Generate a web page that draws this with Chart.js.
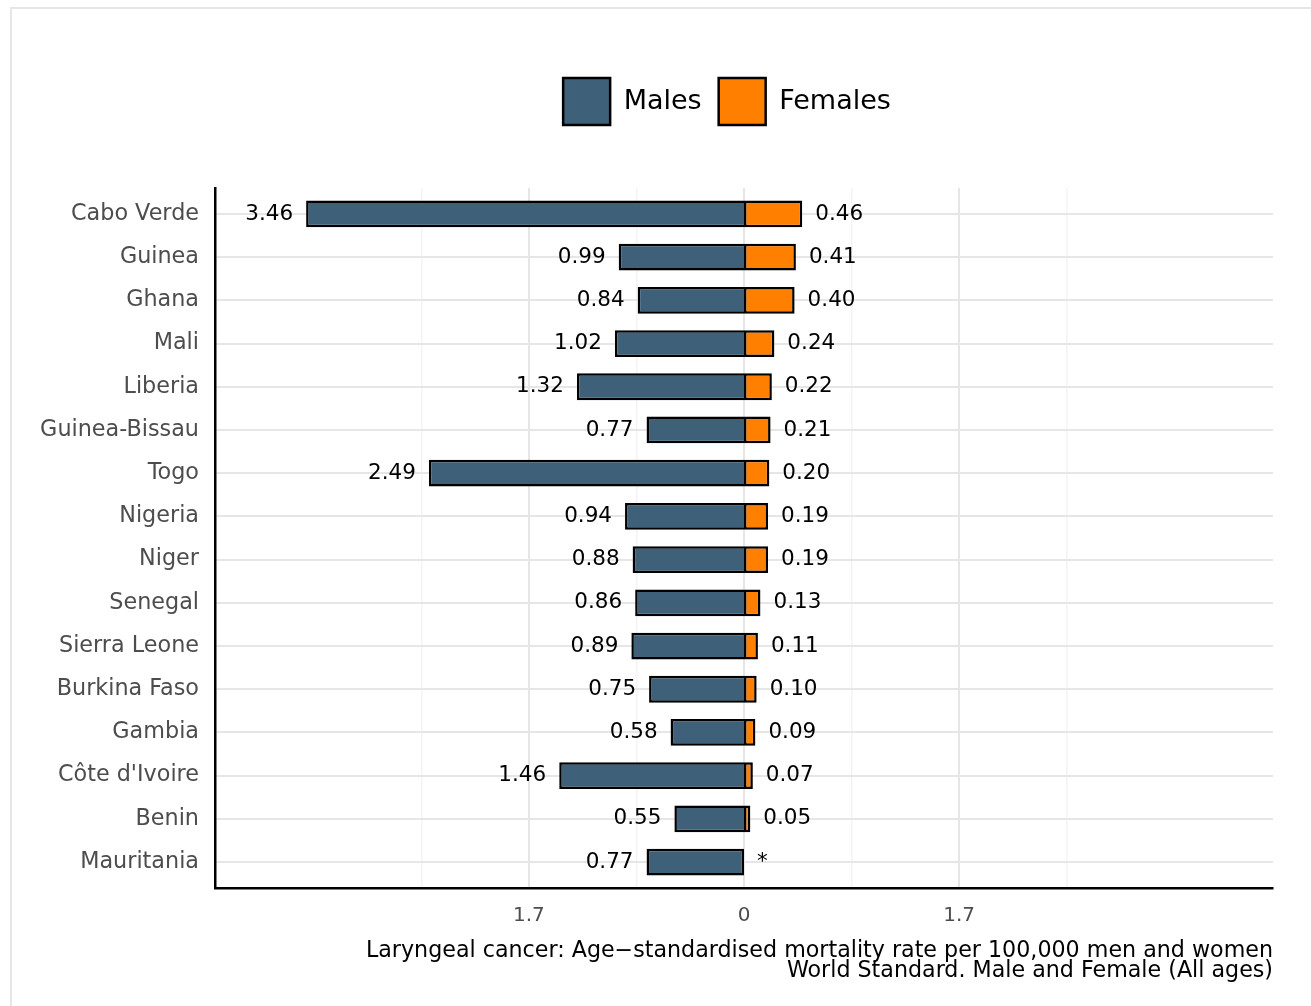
<!DOCTYPE html>
<html>
<head>
<meta charset="utf-8">
<title>Laryngeal cancer mortality</title>
<script src="https://cdn.jsdelivr.net/npm/chart.js@4.4.1/dist/chart.umd.min.js"></script>
<style>
  html, body { margin: 0; padding: 0; background: #fff; overflow: hidden; }
  #moldura { position: absolute; left: 10px; top: 7px; width: 1400px; height: 1100px; border: 2px solid #e6e6e6; }
  #area { position: absolute; left: 0; top: 0; width: 1311px; height: 1006px; }
</style>
</head>
<body>
<div id="moldura"></div>
<div id="area"><canvas id="grafico" width="1311" height="1006"></canvas></div>
<script>
// Data
const countries = ['Cabo Verde', 'Guinea', 'Ghana', 'Mali', 'Liberia', 'Guinea-Bissau', 'Togo', 'Nigeria',
    'Niger', 'Senegal', 'Sierra Leone', 'Burkina Faso', 'Gambia', "Côte d'Ivoire", 'Benin', 'Mauritania'];
const males = [3.46, 0.99, 0.84, 1.02, 1.32, 0.77, 2.49, 0.94, 0.88, 0.86, 0.89, 0.75, 0.58, 1.46, 0.55, 0.77];
const females = [0.46, 0.41, 0.40, 0.24, 0.22, 0.21, 0.20, 0.19, 0.19, 0.13, 0.11, 0.10, 0.09, 0.07, 0.05, null];

// Axis breaks (major labelled, minor only grid)
const xMajor = [-1.7, 0, 1.7];
const xMinor = [-2.55, -0.85, 0.85, 2.55];
const xLimit = 4.18;
const axisTitle = ['Laryngeal cancer: Age\u2212standardised mortality rate per 100,000 men and women',
    'World Standard. Male and Female (All ages)'];

Chart.defaults.font.family = '"DejaVu Sans", sans-serif';

function isMajor(v) {
    return xMajor.some(m => Math.abs(m - v) < 1e-6);
}

// Value labels at the bar ends
const rotulosValores = {
    id: 'rotulosValores',
    afterDatasetsDraw(chart) {
        const ctx = chart.ctx;
        const metaM = chart.getDatasetMeta(0);
        const metaF = chart.getDatasetMeta(1);
        const zero = chart.scales.x.getPixelForValue(0);
        ctx.save();
        ctx.font = '21.5px "DejaVu Sans"';
        ctx.fillStyle = '#000';
        ctx.textBaseline = 'middle';
        countries.forEach((c, i) => {
            const barra = metaM.data[i];
            ctx.textAlign = 'right';
            ctx.fillText(males[i].toFixed(2), barra.x - 13, barra.y);
            ctx.textAlign = 'left';
            if (females[i] === null) {
                ctx.fillText('*', zero + 13, barra.y);
            } else {
                ctx.fillText(females[i].toFixed(2), metaF.data[i].x + 13, barra.y);
            }
        });
        ctx.restore();
    }
};

// Legend: fixed height so the plot starts at the right place, then nudged left
const ajusteLegenda = {
    id: 'ajusteLegenda',
    beforeUpdate(chart) {
        const legenda = chart.legend;
        if (legenda && !legenda._alturaFixa) {
            const fitOriginal = legenda.fit;
            legenda.fit = function () {
                fitOriginal.call(this);
                this.height = 127;
            };
            legenda._alturaFixa = true;
        }
    },
    afterLayout(chart) {
        chart.legend.left -= 17;
        chart.legend.right -= 17;
    }
};

function gerarGrafico() {
    const ctx = document.getElementById('grafico').getContext('2d');
    new Chart(ctx, {
        type: 'bar',
        data: {
            datasets: [
                {
                    label: 'Males',
                    data: males.map((v, i) => ({ x: -v, y: i })),
                    backgroundColor: '#3e6079',
                    borderColor: '#000',
                    borderWidth: 2.5,
                    // the female bar draws the shared edge at zero
                    borderSkipped: (c) => females[c.dataIndex] === null ? false : 'start',
                    inflateAmount: 0,
                    barPercentage: 0.62,
                    categoryPercentage: 1
                },
                {
                    label: 'Females',
                    data: females.map((v, i) => ({ x: v, y: i })),
                    backgroundColor: '#ff7f00',
                    borderColor: '#000',
                    borderWidth: 2.5,
                    borderSkipped: false,
                    inflateAmount: 0,
                    barPercentage: 0.62,
                    categoryPercentage: 1
                }
            ]
        },
        options: {
            indexAxis: 'y',
            responsive: false,
            animation: false,
            devicePixelRatio: 1,
            layout: { padding: { left: 0, right: 38, top: 61, bottom: 0 } },
            plugins: {
                legend: {
                    position: 'top',
                    fullSize: false,
                    labels: {
                        boxWidth: 47,
                        boxHeight: 47,
                        padding: 17,
                        color: '#000',
                        font: { size: 27 }
                    }
                },
                tooltip: { enabled: false }
            },
            scales: {
                x: {
                    type: 'linear',
                    stacked: true,
                    min: -xLimit,
                    max: xLimit,
                    afterBuildTicks: (scale) => {
                        // the zero tick sits a hair off 0 so Chart.js does not pull the bars off the zero grid line
                        scale.ticks = xMinor.concat(xMajor).sort((a, b) => a - b)
                            .map(v => ({ value: v === 0 ? 1e-9 : v }));
                    },
                    afterFit: (scale) => { scale.height = 118; },
                    ticks: {
                        autoSkip: false,
                        maxRotation: 0,
                        padding: 16,
                        color: '#4d4d4d',
                        font: { size: 20 },
                        callback: (v) => isMajor(v) ? String(Math.abs(Math.round(v * 100) / 100)) : ''
                    },
                    grid: {
                        drawTicks: false,
                        color: (c) => c.tick && isMajor(c.tick.value) ? '#e6e6e6' : '#f4f4f4',
                        lineWidth: (c) => c.tick && isMajor(c.tick.value) ? 2 : 1.5
                    },
                    border: { display: true, color: '#000', width: 2.5 },
                    title: {
                        display: true,
                        text: axisTitle,
                        align: 'end',
                        color: '#000',
                        font: { size: 22.2, lineHeight: 0.9 },
                        padding: { top: 0, bottom: 25 }
                    }
                },
                y: {
                    type: 'linear',
                    stacked: true,
                    reverse: true,
                    offset: false,
                    min: -0.6,
                    max: 15.6,
                    afterBuildTicks: (scale) => {
                        scale.ticks = countries.map((c, i) => ({ value: i }));
                    },
                    afterFit: (scale) => { scale.width = 215; },
                    ticks: {
                        autoSkip: false,
                        padding: 16,
                        color: '#4d4d4d',
                        font: { size: 22.3 },
                        callback: (v) => countries[v]
                    },
                    grid: {
                        offset: false,
                        drawTicks: false,
                        color: '#e6e6e6',
                        lineWidth: 2
                    },
                    border: { display: true, color: '#000', width: 2.5 }
                }
            }
        },
        plugins: [rotulosValores, ajusteLegenda]
    });
}

document.addEventListener('DOMContentLoaded', gerarGrafico);
</script>
</body>
</html>
